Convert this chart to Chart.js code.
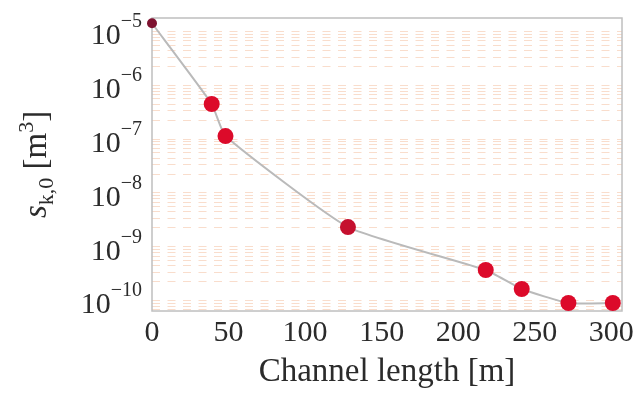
<!DOCTYPE html>
<html>
<head>
<meta charset="utf-8">
<script src="https://cdn.jsdelivr.net/npm/chart.js@4.4.0/dist/chart.umd.min.js"></script>
<style>
  html, body { margin: 0; padding: 0; background: #fff; }
</style>
</head>
<body>
<canvas id="c" width="635" height="396"></canvas>
<script>
// channel length [m] vs s_k,0 [m^3]
var channelLength = [0, 39, 48, 128, 218, 241.5, 272, 301];
var sk0 = [1.25e-5, 3.95e-7, 1.0e-7, 2.04e-9, 3.24e-10, 1.44e-10, 7.9e-11, 7.9e-11];
var xTicks = [0, 50, 100, 150, 200, 250, 300];
var yExponents = [-5, -6, -7, -8, -9, -10];

var FONT = "'Liberation Serif', 'DejaVu Serif', serif";
var TEXT = '#2b2b2b';

var points = channelLength.map(function(x, i){ return {x: x, y: sk0[i]}; });

// dotted minor grid (2..9 x 10^n) plus the frame box
var gridBox = {
  id: 'gridBox',
  beforeDatasetsDraw: function(chart){
    var ctx = chart.ctx, a = chart.chartArea, ys = chart.scales.y;
    ctx.save();
    ctx.beginPath();
    ctx.rect(a.left, a.top, a.right - a.left, a.bottom - a.top);
    ctx.clip();
    ctx.strokeStyle = 'rgba(240,165,120,0.38)';
    ctx.lineWidth = 1;
    ctx.setLineDash([8, 7.5]);
    for (var e = -11; e <= -5; e++){
      for (var m = 2; m <= 9; m++){
        var v = m * Math.pow(10, e);
        if (v < ys.min || v > ys.max) continue;
        var y = Math.round(ys.getPixelForValue(v)) + 0.5;
        ctx.beginPath();
        ctx.moveTo(a.left, y);
        ctx.lineTo(a.right, y);
        ctx.stroke();
      }
    }
    ctx.restore();
    ctx.save();
    ctx.strokeStyle = '#bfbfbf';
    ctx.lineWidth = 1.5;
    ctx.strokeRect(a.left, a.top, a.right - a.left, a.bottom - a.top);
    ctx.restore();
  }
};

// draws a run of text pieces (size, baseline shift) centred or right-aligned
function drawRuns(ctx, parts, x, y, align){
  var total = 0;
  parts.forEach(function(p){
    ctx.font = (p.style || '') + p.size + 'px ' + FONT;
    p.w = ctx.measureText(p.t).width;
    total += p.w;
  });
  var cx = align === 'right' ? x - total : x - total / 2;
  parts.forEach(function(p){
    ctx.font = (p.style || '') + p.size + 'px ' + FONT;
    ctx.fillText(p.t, cx, y + p.dy);
    cx += p.w;
  });
}

// tick labels and axis titles
var axisText = {
  id: 'axisText',
  afterDraw: function(chart){
    var ctx = chart.ctx, a = chart.chartArea, xs = chart.scales.x, ys = chart.scales.y;
    ctx.save();
    ctx.fillStyle = TEXT;
    ctx.textBaseline = 'alphabetic';

    yExponents.forEach(function(e){
      var py = ys.getPixelForValue(Math.pow(10, e));
      drawRuns(ctx, [
        {t: '10', size: 30, dy: 16},
        {t: '\u2212' + Math.abs(e), size: 20, dy: -1}
      ], 142, py, 'right');
    });

    xTicks.forEach(function(v){
      drawRuns(ctx, [{t: String(v), size: 30, dy: 0}], xs.getPixelForValue(v), 341, 'center');
    });

    drawRuns(ctx, [{t: 'Channel length [m]', size: 33, dy: 0}], (a.left + a.right) / 2, 381, 'center');

    ctx.translate(46, (a.top + a.bottom) / 2);
    ctx.rotate(-Math.PI / 2);
    drawRuns(ctx, [
      {t: 's', size: 33, dy: 0, style: 'italic '},
      {t: 'k,0', size: 22, dy: 7},
      {t: ' [m', size: 33, dy: 0},
      {t: '3', size: 22, dy: -13},
      {t: ']', size: 33, dy: 0}
    ], 0, 0, 'center');
    ctx.restore();
  }
};

new Chart(document.getElementById('c').getContext('2d'), {
  type: 'scatter',
  data: {
    datasets: [{
      data: points,
      showLine: true,
      borderColor: '#bababa',
      borderWidth: 2,
      tension: 0.15,
      pointRadius: [5, 8, 8, 8, 8, 8, 8, 8],
      pointBackgroundColor: ['#7e1230', '#dc0a2a', '#dc0a2a', '#c5102e', '#dc0a2a', '#dc0a2a', '#dc0a2a', '#dc0a2a'],
      pointBorderWidth: 0,
      clip: false
    }]
  },
  options: {
    responsive: false,
    animation: false,
    layout: { padding: { top: 18, right: 13, left: 0, bottom: 0 } },
    plugins: { legend: { display: false }, tooltip: { enabled: false } },
    scales: {
      x: {
        type: 'linear',
        min: 0,
        max: 307,
        afterBuildTicks: function(s){ s.ticks = xTicks.map(function(v){ return {value: v}; }); },
        afterFit: function(s){ s.height = 85; },
        grid: { display: false, drawTicks: false },
        border: { display: false },
        ticks: { display: false }
      },
      y: {
        type: 'logarithmic',
        min: Math.pow(10, -10.251),
        max: Math.pow(10, -4.805),
        afterBuildTicks: function(s){ s.ticks = yExponents.map(function(e){ return {value: Math.pow(10, e)}; }); },
        afterFit: function(s){ s.width = 152; },
        grid: { display: false, drawTicks: false },
        border: { display: false },
        ticks: { display: false }
      }
    }
  },
  plugins: [gridBox, axisText]
});
</script>
</body>
</html>
